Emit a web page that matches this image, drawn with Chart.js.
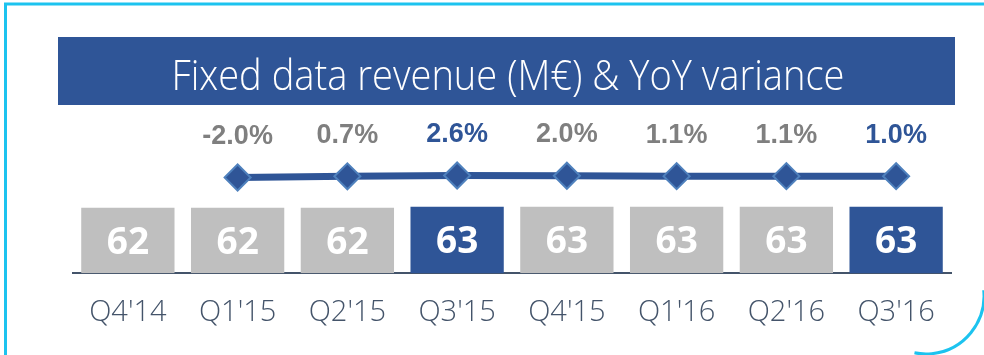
<!DOCTYPE html>
<html>
<head>
<meta charset="utf-8">
<script src="https://cdn.jsdelivr.net/npm/chart.js@4.4.0/dist/chart.umd.min.js"></script>
<style>
  html, body { margin: 0; padding: 0; background: #ffffff; }
  #wrap { width: 984px; height: 355px; position: relative; }
</style>
</head>
<body>
<div id="wrap"><canvas id="chart" width="984" height="355"></canvas></div>
<script>
// Quarterly fixed data revenue (M€) and year-on-year variance (%)
const quarters = ["Q4'14", "Q1'15", "Q2'15", "Q3'15", "Q4'15", "Q1'16", "Q2'16", "Q3'16"];
const revenue = [62, 62, 62, 63, 63, 63, 63, 63];
const yoyVariance = [null, -2.0, 0.7, 2.6, 2.0, 1.1, 1.1, 1.0];
const highlighted = [false, false, false, true, false, false, false, true];
const titleText = "Fixed data revenue (M€) & YoY variance";

const BLUE = '#2f5597';
const GREY_BAR = '#bfbfbf';
const GREY_TEXT = '#7f7f7f';
const SLATE = '#44546a';
const CYAN = '#1cc3ef';

// Frame, title banner and title text
const framePlugin = {
  id: 'frame',
  beforeDraw(chart) {
    const ctx = chart.ctx;
    ctx.save();
    ctx.fillStyle = '#ffffff';
    ctx.fillRect(0, 0, chart.width, chart.height);

    ctx.strokeStyle = CYAN;
    ctx.lineWidth = 3;
    ctx.beginPath();
    ctx.moveTo(5.5, chart.height + 2);
    ctx.lineTo(5.5, 4);
    ctx.lineTo(chart.width + 2, 4);
    ctx.stroke();
    ctx.beginPath();
    ctx.arc(926, 296, 58, -0.1, Math.PI / 2 + 0.2);
    ctx.stroke();

    ctx.fillStyle = BLUE;
    ctx.fillRect(58, 37, 897, 68);
    ctx.fillStyle = '#ffffff';
    ctx.font = '300 43px "Open Sans"';
    ctx.textAlign = 'center';
    ctx.textBaseline = 'alphabetic';
    ctx.fillText(titleText, 508, 90, 673);
    ctx.restore();
  }
};

// Value labels inside the bars and variance labels above the line points
const labelPlugin = {
  id: 'valueLabels',
  afterDatasetsDraw(chart) {
    const ctx = chart.ctx;
    ctx.save();
    ctx.textAlign = 'center';
    ctx.textBaseline = 'middle';

    const barMeta = chart.getDatasetMeta(1);
    ctx.font = 'bold 37px "Open Sans"';
    ctx.fillStyle = '#ffffff';
    barMeta.data.forEach((el, i) => {
      ctx.fillText(String(revenue[i]), el.x, (el.y + el.base) / 2 + 3);
    });

    const lineMeta = chart.getDatasetMeta(0);
    ctx.font = 'bold 27px "Liberation Sans"';
    lineMeta.data.forEach((el, i) => {
      const v = yoyVariance[i];
      if (v === null) return;
      ctx.fillStyle = highlighted[i] ? BLUE : GREY_TEXT;
      ctx.fillText(v.toFixed(1) + '%', el.x, el.y - 41);
    });
    ctx.restore();
  }
};

new Chart(document.getElementById('chart'), {
  data: {
    labels: quarters,
    datasets: [
      {
        type: 'line',
        data: yoyVariance,
        yAxisID: 'yPct',
        borderColor: BLUE,
        borderWidth: 7,
        tension: 0,
        pointStyle: 'rectRot',
        pointRadius: 13,
        pointHoverRadius: 13,
        pointBackgroundColor: BLUE,
        pointBorderColor: '#4f81bd',
        pointBorderWidth: 2,
        order: 0
      },
      {
        type: 'bar',
        data: revenue,
        yAxisID: 'yRev',
        backgroundColor: highlighted.map(h => h ? BLUE : GREY_BAR),
        borderWidth: 0,
        categoryPercentage: 1,
        barPercentage: 0.85,
        order: 1
      }
    ]
  },
  options: {
    responsive: false,
    animation: false,
    devicePixelRatio: 1,
    layout: { padding: { top: 110, left: 73, right: 33, bottom: 3 } },
    plugins: {
      legend: { display: false },
      title: { display: false },
      tooltip: { enabled: false }
    },
    scales: {
      x: {
        grid: { display: false, drawTicks: false },
        border: { display: true, color: SLATE, width: 2 },
        ticks: {
          color: SLATE,
          padding: 22,
          font: { family: 'Open Sans', size: 29, weight: 300 }
        }
      },
      yRev: { display: false, min: 0, max: 154.6 },
      yPct: { display: false, min: -220.5, max: 152.1 }
    }
  },
  plugins: [framePlugin, labelPlugin]
});
</script>
</body>
</html>
